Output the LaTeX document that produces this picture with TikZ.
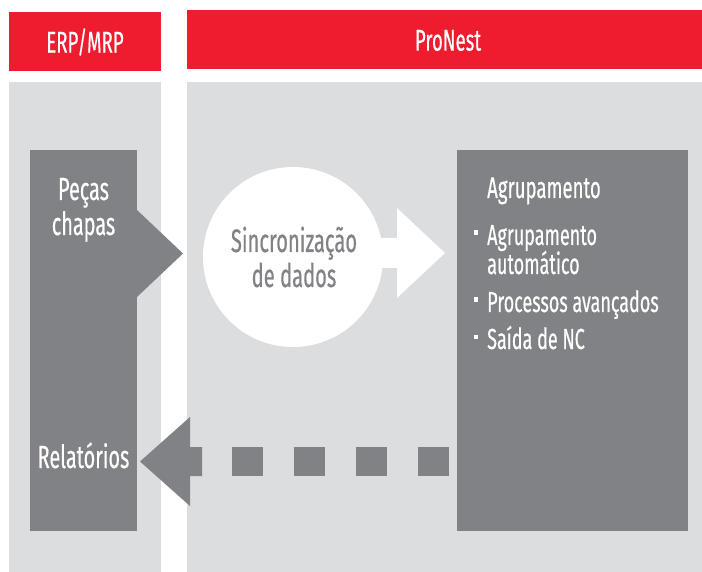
\documentclass[tikz,border=0pt]{standalone}
\usepackage{fontspec}
\setmainfont{Fira Sans}[FakeStretch=0.62, FakeBold=0.4]
\definecolor{pnred}{HTML}{ED1C2E}
\definecolor{panelgray}{HTML}{DCDDDF}
\definecolor{darkgray}{HTML}{808285}
\tikzset{
  header/.style={fill=pnred, draw=none},
  panel/.style={fill=panelgray, draw=none},
  darkbox/.style={fill=darkgray, draw=none},
  headtext/.style={text=white, font=\fontsize{30}{35}\selectfont, inner sep=0pt},
  boxtext/.style={text=white, font=\fontsize{32}{35}\selectfont, inner sep=0pt, anchor=base},
  circtext/.style={text=darkgray, font=\fontsize{32.5}{35}\selectfont, inner sep=0pt, anchor=base},
  titletext/.style={text=white, font=\fontsize{30}{35}\selectfont, inner sep=0pt, anchor=base west},
  bullettext/.style={text=white, font=\fontsize{29}{30}\selectfont, inner sep=0pt, anchor=base west},
}
\newcommand{\pnbullet}{\rule[10pt]{4pt}{4.5pt}\hspace{9pt}}
\begin{document}
\begin{tikzpicture}[x=1pt, y=-1pt]
\useasboundingbox (0,0) rectangle (702,572);
\fill[white] (0,0) rectangle (702,572);
% headers
\fill[header] (9,12) rectangle (161,71);
\node[headtext] (erp) at (85,42) {ERP/MRP};
\fill[header] (187,10) rectangle (702,69);
\node[headtext] (pronest) at (448,40.5) {ProNest};
% panels
\fill[panel] (9,82) rectangle (161,572);
\fill[panel] (187,82) rectangle (702,572);
% left dark box
\node[darkbox, anchor=north west, minimum width=107pt, minimum height=381pt, inner sep=0pt] (pecas) at (30,150) {};
\fill[darkgray] (137,210) -- (183,253.5) -- (137,297) -- cycle;
\node[boxtext] (t1) at (83.5,200) {Peças};
\node[boxtext] (t2) at (83.5,235) {chapas};
\node[boxtext] (rel) at (83.5,468) {Relatórios};
% right dark box
\node[darkbox, anchor=north west, minimum width=231pt, minimum height=381pt, inner sep=0pt] (agr) at (457,150) {};
\node[titletext] (agrt) at (487,198) {Agrupamento};
\node[bullettext] (b1) at (474,245) {\pnbullet Agrupamento};
\node[bullettext] (b1b) at (487,274) {automático};
\node[bullettext] (b2) at (474,312) {\pnbullet Processos avançados};
\node[bullettext] (b3) at (474,349) {\pnbullet Saída de NC};
% circle and white arrow
\node[circle, fill=white, minimum size=180pt, inner sep=0pt] (sync) at (293,257) {};
\fill[white] (360,238) -- (397,238) -- (397,208) -- (445,253) -- (397,298) -- (397,268) -- (360,268) -- cycle;
\node[circtext] (s1) at (294,252) {Sincronização};
\node[circtext] (s2) at (294,287) {de dados};
% return dotted arrow
\fill[darkgray] (140,461.5) -- (190,417) -- (190,447) -- (202,447) -- (202,476) -- (190,476) -- (190,506) -- cycle;
\foreach \xx in {232,294,356,418} {
  \fill[darkgray] (\xx,446.5) rectangle (\xx+31,476);
}
\end{tikzpicture}
\end{document}
